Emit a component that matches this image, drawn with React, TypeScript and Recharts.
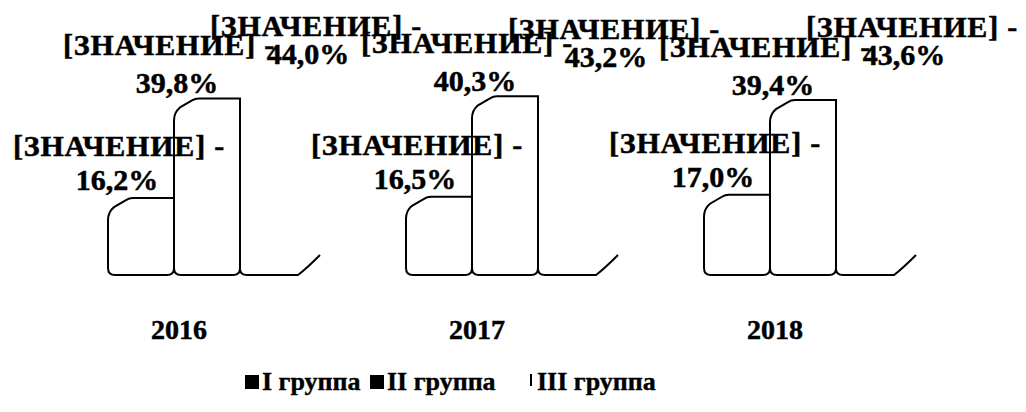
import { Bar, BarChart, LabelList, Legend, XAxis, YAxis } from "recharts";

const CHART_WIDTH = 1026;
const CHART_HEIGHT = 412;
const FONT = "'Liberation Serif', 'Times New Roman', serif";

const years = ["2016", "2017", "2018"];
const groupI = [16.2, 16.5, 17.0];
const groupII = [39.8, 40.3, 39.4];
const groupIII = [44.0, 43.2, 43.6];
const seriesNames = ["I группа", "II группа", "III группа"];
const labelPrefix = "[ЗНАЧЕНИЕ] -";

const data = years.map((year, i) => ({ year, g1: groupI[i], g2: groupII[i], g3: groupIII[i] }));

const fmt = (v: number) => v.toFixed(1).replace(".", ",") + "%";

// bars start at the bottom of the plot, not at the zero line
const bottomOf = (p: any) => (p.background ? p.background.y + p.background.height : p.y + p.height);

function BevelBar(props: any) {
  const { x, y, width } = props;
  const b = bottomOf(props);
  const r = 7;
  const d = [
    `M${x},${b - r}`,
    `L${x},${y + 22}`,
    `Q${x},${y + 14} ${x + 6},${y + 9}`,
    `L${x + 18},${y + 2}`,
    `Q${x + 21},${y} ${x + 25},${y}`,
    `L${x + width},${y}`,
    `L${x + width},${b - r}`,
    `Q${x + width},${b} ${x + width - r},${b}`,
    `L${x + r},${b}`,
    `Q${x},${b} ${x},${b - r}`,
  ].join(" ");
  return <path d={d} fill="none" stroke="#000" strokeWidth={2} />;
}

// the third series only shows its base outline
function BaseOnlyBar(props: any) {
  const { x, width } = props;
  const b = bottomOf(props);
  const d = `M${x},${b - 6} Q${x},${b} ${x + 7},${b} L${x + width - 8},${b} Q${x + width},${b - 6} ${x + width + 14},${b - 20}`;
  return <path d={d} fill="none" stroke="#000" strokeWidth={2} />;
}

const textStyle = { fontFamily: FONT, fontWeight: 700, fill: "#000", stroke: "#000", strokeWidth: 0.5 };

function makeLabel(dx1: number, dy1: number, dx2: number, dy2: number) {
  return (props: any) => {
    const { x, y, width, value } = props;
    const cx = Number(x) + Number(width) / 2;
    return (
      <g>
        <text x={cx + dx1} y={Number(y) + dy1} textAnchor="middle" style={{ ...textStyle, fontSize: 30, letterSpacing: 0.8 }}>
          {labelPrefix}
        </text>
        <text x={cx + dx2} y={Number(y) + dy2} textAnchor="middle" style={{ ...textStyle, fontSize: 30 }}>
          {fmt(Number(value))}
        </text>
      </g>
    );
  };
}

function YearTick(props: any) {
  const { x, y, payload } = props;
  return (
    <text x={x - 28} y={y + 64} textAnchor="middle" style={{ ...textStyle, fontSize: 28 }}>
      {payload.value}
    </text>
  );
}

const legendWidths = [125, 160, 140];

function LegendContent() {
  return (
    <div
      style={{
        display: "flex",
        alignItems: "center",
        paddingLeft: 245,
        fontFamily: FONT,
        fontWeight: 700,
        fontSize: 26,
        color: "#000",
        WebkitTextStroke: "0.4px #000",
      }}
    >
      {seriesNames.map((name, i) => (
        <div key={name} style={{ display: "flex", alignItems: "center", width: legendWidths[i] }}>
          {i < 2 ? (
            <span style={{ width: 14, height: 14, background: "#000", marginRight: 3 }} />
          ) : (
            <span style={{ width: 2, height: 12, background: "#000", marginRight: 5, marginTop: -4 }} />
          )}
          <span>{name}</span>
        </div>
      ))}
    </div>
  );
}

export default function App() {
  return (
    <div style={{ margin: -8, width: CHART_WIDTH, height: CHART_HEIGHT, background: "#fff", fontFamily: FONT }}>
      <BarChart
        width={CHART_WIDTH}
        height={CHART_HEIGHT}
        data={data}
        margin={{ top: 30, right: 74, bottom: 0, left: 58 }}
        barGap={0}
        barSize={66}
      >
        <XAxis dataKey="year" axisLine={false} tickLine={false} tickSize={0} tickMargin={0} height={137} tick={<YearTick />} interval={0} />
        <YAxis hide domain={[-2, 56]} />
        <Legend verticalAlign="middle" wrapperStyle={{ top: 367, left: 0, width: CHART_WIDTH }} content={<LegendContent />} />
        <Bar dataKey="g1" name={seriesNames[0]} shape={<BevelBar />} isAnimationActive={false}>
          <LabelList dataKey="g1" content={makeLabel(-22, -42, -24, -8)} />
        </Bar>
        <Bar dataKey="g2" name={seriesNames[1]} shape={<BevelBar />} isAnimationActive={false}>
          <LabelList dataKey="g2" content={makeLabel(-38, -43, -30, -5)} />
        </Bar>
        <Bar dataKey="g3" name={seriesNames[2]} shape={<BaseOnlyBar />} isAnimationActive={false}>
          <LabelList dataKey="g3" content={makeLabel(43, -45, 35, -17)} />
        </Bar>
      </BarChart>
    </div>
  );
}
